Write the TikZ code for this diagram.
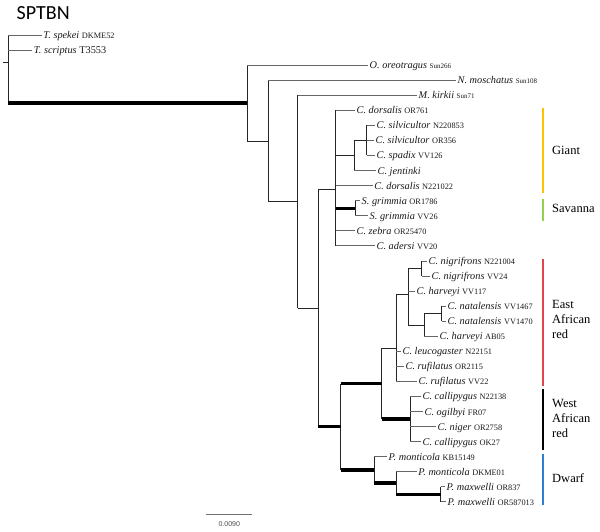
\documentclass[tikz,border=0pt]{standalone}
\usepackage{fontspec}
\setmainfont{Liberation Serif}
\newfontfamily\titlefont{Carlito}
\newfontfamily\scalebarfont{Liberation Sans}
\newcommand\taxon[2]{\textit{#1} {\fontsize{8.3}{8}\selectfont #2}}
\newcommand\taxonS[2]{\textit{#1} {\fontsize{7}{7}\selectfont #2}}
\definecolor{giantc}{HTML}{FFC000}
\definecolor{savc}{HTML}{92D050}
\definecolor{eastc}{HTML}{E0474C}
\definecolor{dwarfc}{HTML}{2E7FD0}
\begin{document}
\begin{tikzpicture}[x=1pt,y=-1pt,
  br/.style={draw=black!85, line width=0.8pt},
  thk/.style={draw=black, line width=3.3pt},
  tipbr/.style={draw=black!60, line width=0.8pt},
  tip/.style={anchor=base west, inner sep=0pt, xshift=1.5pt, yshift=-3.5pt, font=\fontsize{10.3}{10}\selectfont, text=black!90},
  grp/.style={anchor=west, inner sep=0pt, align=left, font=\fontsize{12.5}{15}\selectfont},
  grpbar/.style={line width=1.5pt}]
\useasboundingbox (0,0) rectangle (600,532);

% title
\node[anchor=west, inner sep=0pt, font=\titlefont\fontsize{20}{20}\selectfont] (title) at (16.5,13.5) {SPTBN};

% internal nodes
\coordinate (root) at (8,62.69);
\coordinate (stub) at (3,62.69);
\coordinate (A) at (247,103.02);
\coordinate (B) at (268,140.92);
\coordinate (C) at (297.7,201.67);
\coordinate (D) at (318,308.09);
\coordinate (E) at (335.7,189.37);
\coordinate (G) at (354.3,155.48);
\coordinate (S) at (366.7,140.42);
\coordinate (T) at (355,208.19);
\coordinate (F) at (340.7,426.8);
\coordinate (H) at (381.7,383.74);
\coordinate (J) at (396,348.44);
\coordinate (K) at (408.3,294.78);
\coordinate (L) at (421.7,268.43);
\coordinate (M) at (424.3,324.9);
\coordinate (N) at (441.7,313.61);
\coordinate (W) at (410,419.03);
\coordinate (P) at (374,469.86);
\coordinate (Q) at (396,483.04);
\coordinate (R) at (440.7,494.33);

% tip ends
\coordinate (e0) at (41.7,35);
\coordinate (e1) at (32.3,50.06);
\coordinate (e2) at (368,65.12);
\coordinate (e3) at (456,80.18);
\coordinate (e4) at (417,95.24);
\coordinate (e5) at (355,110.3);
\coordinate (e6) at (375,125.36);
\coordinate (e7) at (374,140.42);
\coordinate (e8) at (375,155.48);
\coordinate (e9) at (376,170.54);
\coordinate (e10) at (372.7,185.6);
\coordinate (e11) at (360,200.66);
\coordinate (e12) at (368,215.72);
\coordinate (e13) at (355,230.78);
\coordinate (e14) at (375,245.84);
\coordinate (e15) at (427,260.9);
\coordinate (e16) at (430,275.96);
\coordinate (e17) at (415,291.02);
\coordinate (e18) at (446,306.08);
\coordinate (e19) at (446,321.14);
\coordinate (e20) at (438,336.2);
\coordinate (e21) at (401,351.26);
\coordinate (e22) at (404,366.32);
\coordinate (e23) at (417,381.38);
\coordinate (e24) at (421,396.44);
\coordinate (e25) at (423,411.5);
\coordinate (e26) at (436,426.56);
\coordinate (e27) at (421,441.62);
\coordinate (e28) at (387,456.68);
\coordinate (e29) at (416.7,471.74);
\coordinate (e30) at (445,486.8);
\coordinate (e31) at (446,501.86);

% tip labels
\node[tip] (t0) at (e0) {\taxon{T. spekei}{DKME52}};
\node[tip] (t1) at (e1) {\textit{T. scriptus} T3553};
\node[tip] (t2) at (e2) {\taxonS{O. oreotragus}{Sun266}};
\node[tip] (t3) at (e3) {\taxonS{N. moschatus}{Sun108}};
\node[tip] (t4) at (e4) {\taxonS{M. kirkii}{Sun71}};
\node[tip] (t5) at (e5) {\taxon{C. dorsalis}{OR761}};
\node[tip] (t6) at (e6) {\taxon{C. silvicultor}{N220853}};
\node[tip] (t7) at (e7) {\taxon{C. silvicultor}{OR356}};
\node[tip] (t8) at (e8) {\taxon{C. spadix}{VV126}};
\node[tip] (t9) at (e9) {\textit{C. jentinki}};
\node[tip] (t10) at (e10) {\taxon{C. dorsalis}{N221022}};
\node[tip] (t11) at (e11) {\taxon{S. grimmia}{OR1786}};
\node[tip] (t12) at (e12) {\taxon{S. grimmia}{VV26}};
\node[tip] (t13) at (e13) {\taxon{C. zebra}{OR25470}};
\node[tip] (t14) at (e14) {\taxon{C. adersi}{VV20}};
\node[tip] (t15) at (e15) {\taxon{C. nigrifrons}{N221004}};
\node[tip] (t16) at (e16) {\taxon{C. nigrifrons}{VV24}};
\node[tip] (t17) at (e17) {\taxon{C. harveyi}{VV117}};
\node[tip] (t18) at (e18) {\taxon{C. natalensis}{VV1467}};
\node[tip] (t19) at (e19) {\taxon{C. natalensis}{VV1470}};
\node[tip] (t20) at (e20) {\taxon{C. harveyi}{AB05}};
\node[tip] (t21) at (e21) {\taxon{C. leucogaster}{N22151}};
\node[tip] (t22) at (e22) {\taxon{C. rufilatus}{OR2115}};
\node[tip] (t23) at (e23) {\taxon{C. rufilatus}{VV22}};
\node[tip] (t24) at (e24) {\taxon{C. callipygus}{N22138}};
\node[tip] (t25) at (e25) {\taxon{C. ogilbyi}{FR07}};
\node[tip] (t26) at (e26) {\taxon{C. niger}{OR2758}};
\node[tip] (t27) at (e27) {\taxon{C. callipygus}{OK27}};
\node[tip] (t28) at (e28) {\taxon{P. monticola}{KB15149}};
\node[tip] (t29) at (e29) {\taxon{P. monticola}{DKME01}};
\node[tip] (t30) at (e30) {\taxon{P. maxwelli}{OR837}};
\node[tip] (t31) at (e31) {\taxon{P. maxwelli}{OR587013}};

% vertical spans of internal nodes
\draw[br] (stub) -- (root);
\draw[br] (root |- e0) -- (root |- A);
\draw[br] (A |- e2) -- (A |- B);
\draw[br] (B |- e3) -- (B |- C);
\draw[br] (C |- e4) -- (C |- D);
\draw[br] (D |- E) -- (D |- F);
\draw[br] (E |- e5) -- (E |- e14);
\draw[br] (G |- S) -- (G |- e9);
\draw[br] (S |- e6) -- (S |- e8);
\draw[br] (T |- e11) -- (T |- e12);
\draw[br] (F |- H) -- (F |- P);
\draw[br] (H |- J) -- (H |- W);
\draw[br] (J |- K) -- (J |- e23);
\draw[br] (K |- L) -- (K |- M);
\draw[br] (L |- e15) -- (L |- e16);
\draw[br] (M |- N) -- (M |- e20);
\draw[br] (N |- e18) -- (N |- e19);
\draw[br] (W |- e24) -- (W |- e27);
\draw[br] (P |- e28) -- (P |- Q);
\draw[br] (Q |- e29) -- (Q |- R);
\draw[br] (R |- e30) -- (R |- e31);

% internal horizontal branches
\draw[thk] (root |- A) -- (A);
\draw[br] (A |- B) -- (B);
\draw[br] (B |- C) -- (C);
\draw[br] (C |- D) -- (D);
\draw[br] (D |- E) -- (E);
\draw[thk] (D |- F) -- (F);
\draw[br] (E |- G) -- (G);
\draw[thk] (E |- T) -- (T);
\draw[br] (G |- S) -- (S);
\draw[thk] (F |- H) -- (H);
\draw[thk] (F |- P) -- (P);
\draw[br] (H |- J) -- (J);
\draw[thk] (H |- W) -- (W);
\draw[br] (J |- K) -- (K);
\draw[br] (K |- L) -- (L);
\draw[br] (K |- M) -- (M);
\draw[br] (M |- N) -- (N);
\draw[thk] (P |- Q) -- (Q);
\draw[thk] (Q |- R) -- (R);

% tip branches
\foreach \p/\i in {root/0, root/1, A/2, B/3, C/4, E/5, S/6, S/7, S/8, G/9, E/10,
  T/11, T/12, E/13, E/14, L/15, L/16, K/17, N/18, N/19, M/20, J/21, J/22, J/23,
  W/24, W/25, W/26, W/27, P/28, Q/29, R/30, R/31}
  \draw[tipbr] (\p |- e\i) -- (e\i);

% group bars
\coordinate (g1a) at (543,108); \coordinate (g1b) at (543,193);
\coordinate (g2a) at (543,199); \coordinate (g2b) at (543,221);
\coordinate (g3a) at (543,259); \coordinate (g3b) at (543,386);
\coordinate (g4a) at (543,389); \coordinate (g4b) at (543,450);
\coordinate (g5a) at (543,454); \coordinate (g5b) at (543,505);
\draw[grpbar, giantc] (g1a) -- (g1b);
\draw[grpbar, savc] (g2a) -- (g2b);
\draw[grpbar, eastc] (g3a) -- (g3b);
\draw[grpbar, black] (g4a) -- (g4b);
\draw[grpbar, dwarfc] (g5a) -- (g5b);
\node[grp] (giant) at (552,150) {Giant};
\node[grp] (sav) at (552,208.3) {Savanna};
\node[grp] (east) at (552,319.3) {East\\African\\red};
\node[grp] (west) at (552,418) {West\\African\\red};
\node[grp] (dwarf) at (552,478.3) {Dwarf};

% scale bar
\coordinate (sb1) at (206,514.7);
\coordinate (sb2) at (252.3,514.7);
\draw[draw=black!55, line width=1.3pt] (sb1) -- (sb2);
\node[inner sep=0pt, font=\scalebarfont\fontsize{7}{7}\selectfont, text=black!70] (sbl) at (229.3,524.3) {0.0090};
\end{tikzpicture}
\end{document}
